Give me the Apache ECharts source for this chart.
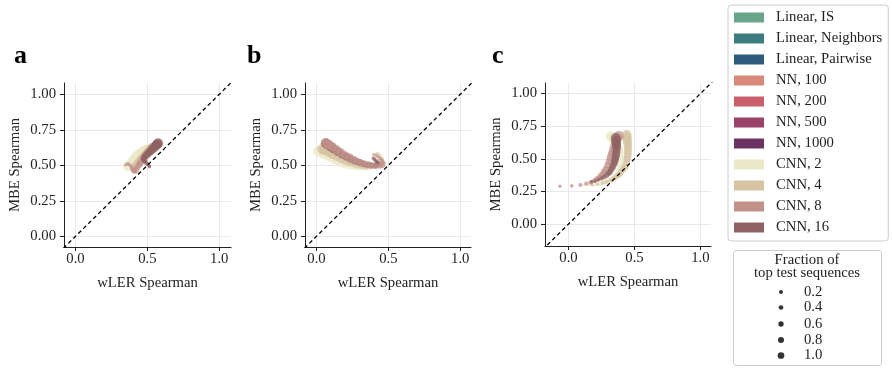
<!DOCTYPE html>
<html>
<head>
<meta charset="utf-8">
<script src="https://cdn.jsdelivr.net/npm/echarts@6/dist/echarts.min.js"></script>
<style>
  html, body { margin: 0; padding: 0; background: #fff; }
  #chart { width: 892px; height: 368px; }
</style>
</head>
<body>
<div id="chart"></div>
<script>
// model names + colours (legend order)
const MODELS = ['Linear, IS', 'Linear, Neighbors', 'Linear, Pairwise', 'NN, 100', 'NN, 200',
  'NN, 500', 'NN, 1000', 'CNN, 2', 'CNN, 4', 'CNN, 8', 'CNN, 16'];
const MODEL_COLORS = ['#6aa58b', '#3b7c7f', '#2c5b7b', '#d8897a', '#c85f6b', '#9b4269',
  '#6c3263', '#e9e9c9', '#d6c3a1', '#c2918a', '#8f6363'];

const PANEL_LABELS = ['a', 'b', 'c'];
const X_TICKS = [0, 0.5, 1.0];
const Y_TICKS = [0, 0.25, 0.5, 0.75, 1.0];
const SIZE_LEGEND = [0.2, 0.4, 0.6, 0.8, 1.0];
const DIAGONAL = [-0.5, 1.5];

// fraction of top test sequences for every point along a trajectory
const FRACTIONS = [0.05, 0.1, 0.15, 0.2, 0.25, 0.3, 0.35, 0.4, 0.45, 0.5,
  0.55, 0.6, 0.65, 0.7, 0.75, 0.8, 0.85, 0.9, 0.95, 1.0];

// panel a
const aCnn2X = [0.38, 0.36, 0.35, 0.345, 0.35, 0.36, 0.37, 0.38, 0.39, 0.40, 0.41, 0.42, 0.43, 0.44, 0.45, 0.46, 0.47, 0.48, 0.49, 0.50];
const aCnn2Y = [0.47, 0.47, 0.48, 0.49, 0.50, 0.51, 0.52, 0.53, 0.54, 0.55, 0.56, 0.57, 0.58, 0.585, 0.59, 0.595, 0.60, 0.605, 0.61, 0.615];
const aCnn4X = [0.44, 0.42, 0.41, 0.40, 0.40, 0.40, 0.405, 0.41, 0.42, 0.43, 0.44, 0.45, 0.46, 0.47, 0.48, 0.49, 0.50, 0.51, 0.52, 0.53];
const aCnn4Y = [0.45, 0.45, 0.455, 0.46, 0.47, 0.48, 0.49, 0.50, 0.51, 0.52, 0.53, 0.54, 0.55, 0.56, 0.57, 0.58, 0.59, 0.60, 0.61, 0.62];
const aCnn8X = [0.35, 0.365, 0.38, 0.39, 0.40, 0.41, 0.42, 0.43, 0.44, 0.45, 0.46, 0.47, 0.48, 0.49, 0.50, 0.51, 0.52, 0.53, 0.54, 0.55];
const aCnn8Y = [0.505, 0.51, 0.50, 0.485, 0.47, 0.46, 0.47, 0.485, 0.50, 0.515, 0.53, 0.545, 0.56, 0.57, 0.58, 0.59, 0.60, 0.61, 0.62, 0.63];
const aCnn16X = [0.515, 0.51, 0.50, 0.49, 0.48, 0.475, 0.475, 0.48, 0.49, 0.50, 0.51, 0.52, 0.53, 0.54, 0.55, 0.555, 0.56, 0.565, 0.57, 0.575];
const aCnn16Y = [0.49, 0.50, 0.51, 0.52, 0.53, 0.54, 0.55, 0.56, 0.57, 0.58, 0.59, 0.60, 0.61, 0.62, 0.63, 0.635, 0.64, 0.645, 0.65, 0.655];

// panel b
const bCnn2X = [0.43, 0.445, 0.455, 0.45, 0.43, 0.40, 0.37, 0.34, 0.31, 0.28, 0.25, 0.22, 0.19, 0.16, 0.13, 0.10, 0.075, 0.05, 0.03, 0.01];
const bCnn2Y = [0.585, 0.57, 0.55, 0.525, 0.505, 0.495, 0.49, 0.485, 0.485, 0.49, 0.495, 0.50, 0.51, 0.52, 0.535, 0.55, 0.565, 0.58, 0.59, 0.60];
const bCnn4X = [0.42, 0.435, 0.45, 0.455, 0.44, 0.41, 0.38, 0.35, 0.32, 0.29, 0.26, 0.23, 0.20, 0.17, 0.14, 0.11, 0.09, 0.07, 0.05, 0.04];
const bCnn4Y = [0.58, 0.565, 0.545, 0.52, 0.505, 0.495, 0.49, 0.49, 0.495, 0.50, 0.51, 0.52, 0.53, 0.545, 0.56, 0.575, 0.59, 0.60, 0.61, 0.615];
const bCnn8X = [0.40, 0.42, 0.44, 0.455, 0.465, 0.46, 0.44, 0.41, 0.38, 0.35, 0.32, 0.29, 0.26, 0.23, 0.20, 0.17, 0.14, 0.11, 0.085, 0.065];
const bCnn8Y = [0.575, 0.565, 0.55, 0.535, 0.515, 0.50, 0.495, 0.495, 0.50, 0.505, 0.515, 0.525, 0.54, 0.555, 0.57, 0.59, 0.61, 0.63, 0.645, 0.655];
const bCnn16X = [0.395, 0.405, 0.415, 0.425, 0.43, 0.425, 0.41, 0.39, 0.36, 0.33, 0.30, 0.27, 0.24, 0.21, 0.18, 0.15, 0.12, 0.10, 0.08, 0.065];
const bCnn16Y = [0.55, 0.54, 0.53, 0.52, 0.51, 0.505, 0.50, 0.50, 0.505, 0.51, 0.52, 0.53, 0.545, 0.56, 0.575, 0.595, 0.615, 0.63, 0.645, 0.655];

// panel c
const cCnn2X = [0.12, 0.16, 0.20, 0.24, 0.27, 0.30, 0.33, 0.35, 0.37, 0.385, 0.395, 0.40, 0.40, 0.395, 0.385, 0.37, 0.355, 0.34, 0.33, 0.32];
const cCnn2Y = [0.30, 0.30, 0.305, 0.31, 0.32, 0.33, 0.345, 0.36, 0.38, 0.40, 0.43, 0.46, 0.50, 0.54, 0.57, 0.60, 0.625, 0.645, 0.66, 0.675];
const cCnn4X = [0.18, 0.22, 0.26, 0.29, 0.32, 0.345, 0.365, 0.385, 0.40, 0.415, 0.43, 0.44, 0.445, 0.45, 0.45, 0.45, 0.448, 0.445, 0.442, 0.44];
const cCnn4Y = [0.30, 0.305, 0.315, 0.325, 0.335, 0.35, 0.365, 0.38, 0.40, 0.42, 0.44, 0.47, 0.50, 0.53, 0.56, 0.59, 0.62, 0.645, 0.665, 0.685];
const cCnn8X = [-0.065, 0.025, 0.09, 0.135, 0.17, 0.20, 0.22, 0.24, 0.255, 0.27, 0.285, 0.30, 0.31, 0.32, 0.33, 0.34, 0.35, 0.36, 0.37, 0.38];
const cCnn8Y = [0.29, 0.293, 0.30, 0.31, 0.32, 0.335, 0.35, 0.365, 0.38, 0.40, 0.42, 0.45, 0.48, 0.51, 0.54, 0.57, 0.60, 0.63, 0.655, 0.675];
const cCnn16X = [0.175, 0.20, 0.225, 0.25, 0.27, 0.29, 0.305, 0.315, 0.325, 0.335, 0.345, 0.35, 0.355, 0.36, 0.363, 0.365, 0.365, 0.363, 0.36, 0.358];
const cCnn16Y = [0.324, 0.33, 0.34, 0.35, 0.36, 0.375, 0.39, 0.40, 0.42, 0.44, 0.46, 0.48, 0.50, 0.525, 0.55, 0.58, 0.60, 0.62, 0.64, 0.66];

const PANEL_DATA = [
  { 'CNN, 2': [aCnn2X, aCnn2Y], 'CNN, 4': [aCnn4X, aCnn4Y], 'CNN, 8': [aCnn8X, aCnn8Y], 'CNN, 16': [aCnn16X, aCnn16Y] },
  { 'CNN, 2': [bCnn2X, bCnn2Y], 'CNN, 4': [bCnn4X, bCnn4Y], 'CNN, 16': [bCnn16X, bCnn16Y], 'CNN, 8': [bCnn8X, bCnn8Y] },
  { 'CNN, 2': [cCnn2X, cCnn2Y], 'CNN, 4': [cCnn4X, cCnn4Y], 'CNN, 8': [cCnn8X, cCnn8Y], 'CNN, 16': [cCnn16X, cCnn16Y] }
];

const FONT = 'Liberation Serif';
const FS = 14.7;
const sizeOf = f => 3 + 7 * f;          // marker diameter in the panels
const legendSizeOf = f => 3.3 + 3.4 * f; // dot diameter in the size legend

// grid boxes / axis limits per panel
const grids = [
  { left: 64, top: 83, width: 167, height: 164 },
  { left: 305, top: 83, width: 166, height: 164 },
  { left: 545, top: 83, width: 166, height: 163 }
];
const xLims = [[-0.08, 1.082], [-0.08, 1.075], [-0.178, 1.08]];
const yLims = [[-0.075, 1.08], [-0.075, 1.08], [-0.168, 1.081]];

const chart = echarts.init(document.getElementById('chart'));

const xAxes = grids.map((g, i) => ({
  type: 'value', gridIndex: i, min: xLims[i][0], max: xLims[i][1],
  name: 'wLER Spearman', nameLocation: 'middle', nameGap: 29,
  nameTextStyle: { fontFamily: FONT, fontSize: FS, color: '#222' },
  axisLine: { show: true, onZero: false, lineStyle: { color: '#222', width: 1 } },
  axisTick: { show: true, length: 4, customValues: X_TICKS, lineStyle: { color: '#222' } },
  axisLabel: { customValues: X_TICKS, margin: 5, fontFamily: FONT, fontSize: FS, color: '#222',
    formatter: v => v.toFixed(1) },
  splitLine: { show: true, lineStyle: { color: '#e8e8e8', width: 1 } }
}));

const yAxes = grids.map((g, i) => ({
  type: 'value', gridIndex: i, min: yLims[i][0], max: yLims[i][1],
  name: 'MBE Spearman', nameLocation: 'middle', nameGap: 41,
  nameTextStyle: { fontFamily: FONT, fontSize: FS, color: '#222' },
  axisLine: { show: true, onZero: false, lineStyle: { color: '#222', width: 1 } },
  axisTick: { show: true, length: 4, customValues: Y_TICKS, lineStyle: { color: '#222' } },
  axisLabel: { customValues: Y_TICKS, margin: 8, fontFamily: FONT, fontSize: FS, color: '#222',
    formatter: v => v.toFixed(2) },
  splitLine: { show: true, lineStyle: { color: '#e8e8e8', width: 1 } }
}));

const series = [];
// empty series so every model shows in the legend
MODELS.forEach((m, k) => {
  if (m.startsWith('CNN')) return;
  series.push({ type: 'scatter', name: m, xAxisIndex: 0, yAxisIndex: 0, data: [],
    itemStyle: { color: MODEL_COLORS[k] } });
});

PANEL_DATA.forEach((pd, p) => {
  Object.keys(pd).forEach(m => {
    const [xs, ys] = pd[m];
    series.push({
      type: 'scatter', name: m, xAxisIndex: p, yAxisIndex: p,
      data: xs.map((x, j) => [x, ys[j], FRACTIONS[j]]),
      symbolSize: v => sizeOf(v[2]),
      itemStyle: { color: MODEL_COLORS[MODELS.indexOf(m)], opacity: 0.75 },
      z: 2, silent: true
    });
  });
  series.push({
    type: 'line', xAxisIndex: p, yAxisIndex: p, data: [[DIAGONAL[0], DIAGONAL[0]], [DIAGONAL[1], DIAGONAL[1]]],
    showSymbol: false, clip: true, silent: true, z: 5,
    lineStyle: { color: '#000', width: 1.3, type: [4, 3] }
  });
});

// size legend drawn as graphic
const sizeLegend = [
  { type: 'rect', left: 733, top: 250, shape: { width: 148, height: 115, r: 3 },
    style: { fill: '#fff', stroke: '#cccccc', lineWidth: 1 } },
  { type: 'text', x: 807, y: 260, style: { text: 'Fraction of', font: FS + 'px "' + FONT + '"', fill: '#222', align: 'center', verticalAlign: 'middle' } },
  { type: 'text', x: 807, y: 273, style: { text: 'top test sequences', font: FS + 'px "' + FONT + '"', fill: '#222', align: 'center', verticalAlign: 'middle' } }
];
const rowY = [292, 307.5, 324, 340, 355.5];
SIZE_LEGEND.forEach((f, i) => {
  sizeLegend.push({ type: 'circle', shape: { cx: 781, cy: rowY[i], r: legendSizeOf(f) / 2 }, style: { fill: '#333' } });
  sizeLegend.push({ type: 'text', x: 804, y: rowY[i], style: { text: f.toFixed(1), font: FS + 'px "' + FONT + '"', fill: '#222', verticalAlign: 'middle' } });
});

const labelPos = [[14, 56], [247, 56], [492, 56]];
const panelLabels = PANEL_LABELS.map((t, i) => ({
  type: 'text', x: labelPos[i][0], y: labelPos[i][1],
  style: { text: t, font: 'bold 26px "' + FONT + '"', fill: '#000', verticalAlign: 'middle' }
}));

chart.setOption({
  animation: false,
  grid: grids,
  xAxis: xAxes,
  yAxis: yAxes,
  legend: {
    orient: 'vertical', left: 728, top: 5,
    data: MODELS.map((m, k) => ({ name: m, itemStyle: { color: MODEL_COLORS[k], opacity: 1 } })),
    icon: 'rect', itemWidth: 30, itemHeight: 10, itemGap: 6,
    selectedMode: false,
    padding: [5, 6, 6, 6],
    borderColor: '#cccccc', borderWidth: 1, borderRadius: 3,
    textStyle: { fontFamily: FONT, fontSize: FS, color: '#222', lineHeight: 15, padding: [0, 0, 0, 7] }
  },
  graphic: panelLabels.concat(sizeLegend),
  series: series
});
</script>
</body>
</html>
